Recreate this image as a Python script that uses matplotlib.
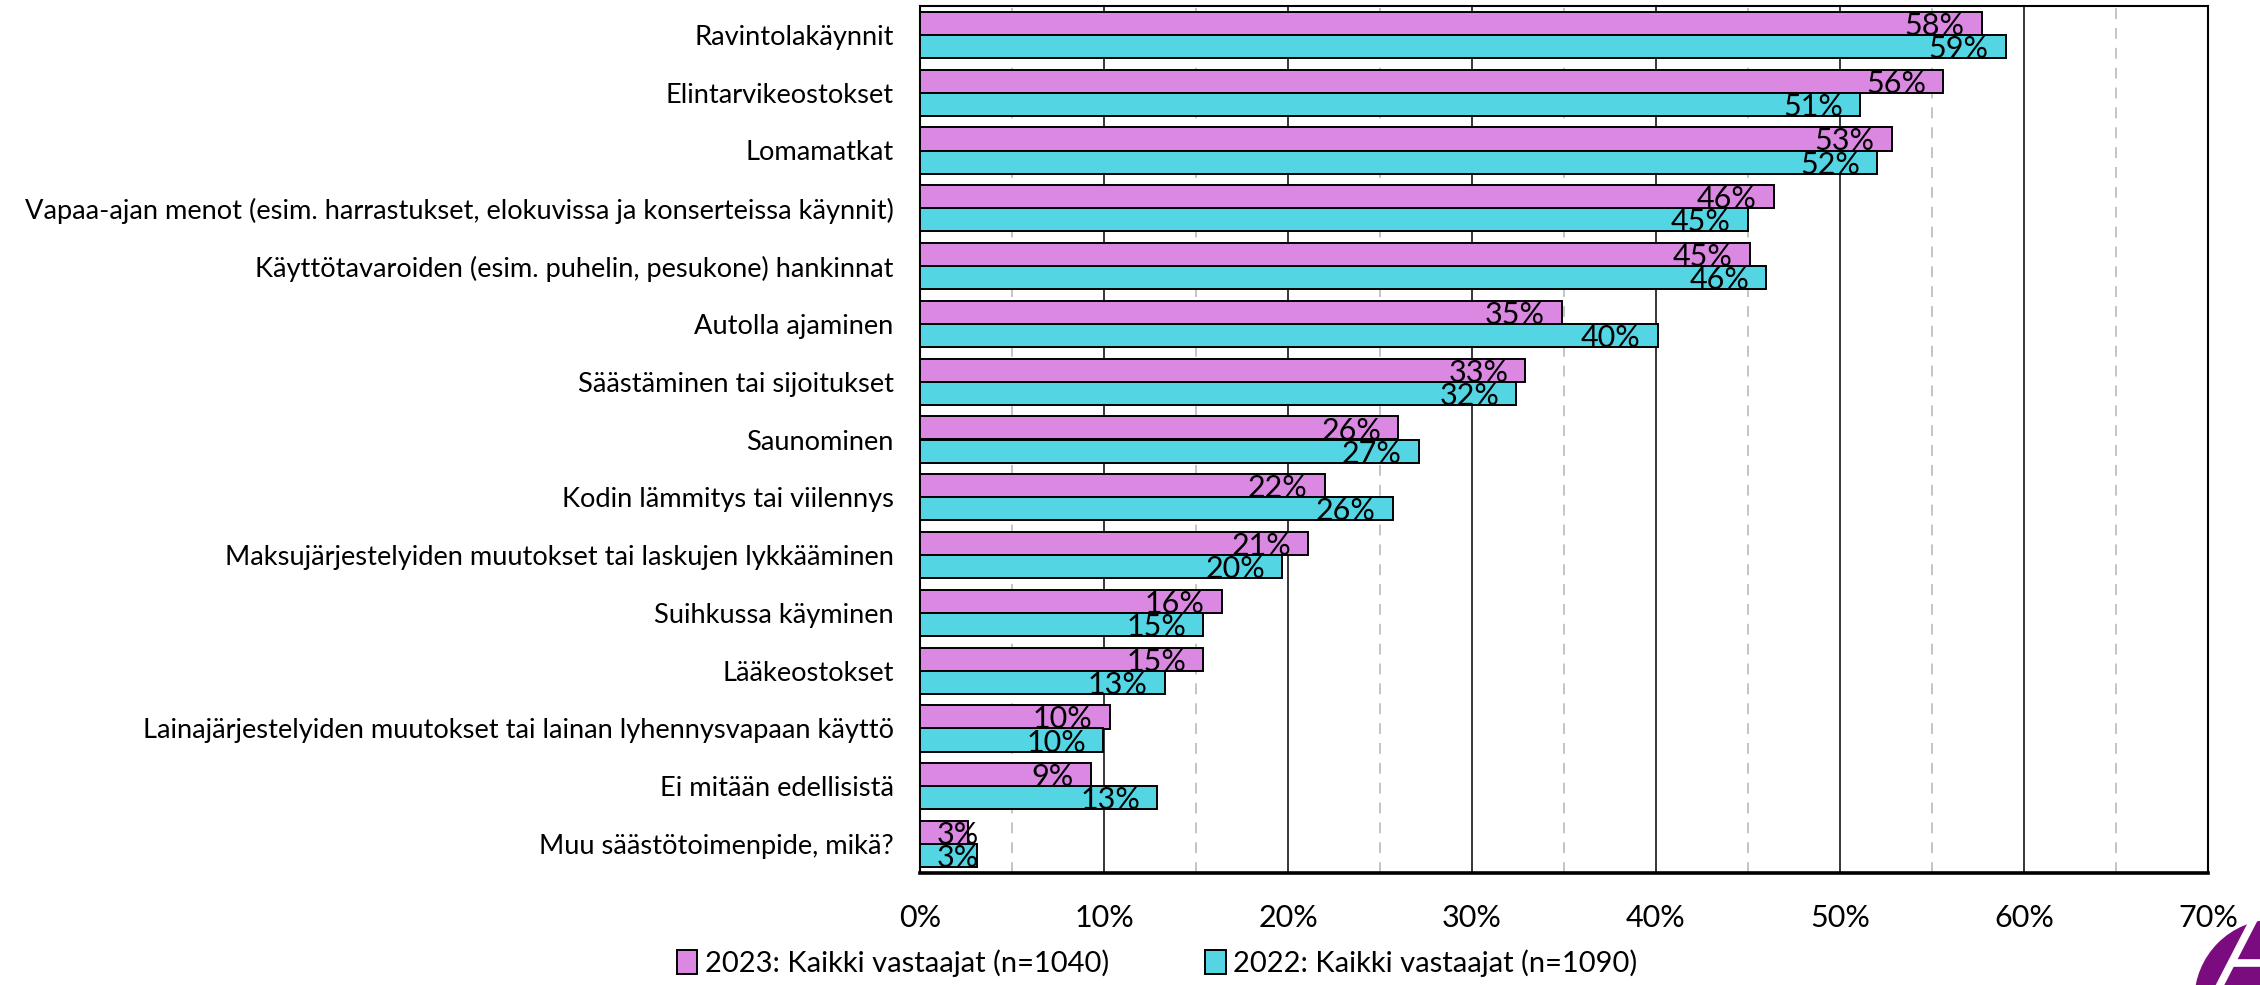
import matplotlib
matplotlib.use("Agg")
import matplotlib.pyplot as plt
from matplotlib.patches import Patch, Circle
from matplotlib.ticker import MultipleLocator, FuncFormatter

plt.rcParams['font.family'] = ['Lato', 'DejaVu Sans']

# kategoriat ylhaalta alas
kategoriat = [
    "Ravintolakäynnit",
    "Elintarvikeostokset",
    "Lomamatkat",
    "Vapaa-ajan menot (esim. harrastukset, elokuvissa ja konserteissa käynnit)",
    "Käyttötavaroiden (esim. puhelin, pesukone) hankinnat",
    "Autolla ajaminen",
    "Säästäminen tai sijoitukset",
    "Saunominen",
    "Kodin lämmitys tai viilennys",
    "Maksujärjestelyiden muutokset tai laskujen lykkääminen",
    "Suihkussa käyminen",
    "Lääkeostokset",
    "Lainajärjestelyiden muutokset tai lainan lyhennysvapaan käyttö",
    "Ei mitään edellisistä",
    "Muu säästötoimenpide, mikä?",
]
arvot_2023 = [57.7, 55.6, 52.8, 46.4, 45.1, 34.9, 32.9, 26.0, 22.0, 21.1, 16.4, 15.4, 10.3, 9.3, 2.6]
arvot_2022 = [59.0, 51.1, 52.0, 45.0, 46.0, 40.1, 32.4, 27.1, 25.7, 19.7, 15.4, 13.3, 9.97, 12.9, 3.1]
sarjat = ["2023: Kaikki vastaajat (n=1040)", "2022: Kaikki vastaajat (n=1090)"]
varit = ["#DA88E1", "#53D5E3"]

fig = plt.figure(figsize=(22.6, 9.85), dpi=100)
ax = fig.add_axes([920 / 2260, 1 - 873 / 985, 1288 / 2260, 867 / 985])

y = list(range(len(kategoriat)))
h = 0.4
for arvot, vari, siirto in [(arvot_2023, varit[0], -h / 2), (arvot_2022, varit[1], h / 2)]:
    yy = [i + siirto for i in y]
    ax.barh(yy, arvot, height=h, color=vari, edgecolor='black', linewidth=1.4, zorder=3)
    for yi, v in zip(yy, arvot):
        teksti = f"{round(v)}%"
        if v < 5:
            ax.annotate(teksti, (0, yi + h / 2), xytext=(17, 0), textcoords='offset pixels',
                        ha='left', va='baseline', fontsize=22, zorder=4)
        else:
            ax.annotate(teksti, (v, yi + h / 2), xytext=(-17, 0), textcoords='offset pixels',
                        ha='right', va='baseline', fontsize=22, zorder=4)

ax.set_ylim(len(kategoriat) - 0.5, -0.5)
ax.set_xlim(0, 70)
ax.set_yticks(y)
ax.set_yticklabels(kategoriat, fontsize=19.6)
ax.xaxis.set_major_locator(MultipleLocator(10))
ax.xaxis.set_minor_locator(MultipleLocator(5))
ax.xaxis.set_major_formatter(FuncFormatter(lambda v, p: f"{v:.0f}%"))
ax.tick_params(axis='x', which='both', length=0, labelsize=22, pad=22)
ax.tick_params(axis='y', length=0, pad=19)
ax.set_axisbelow(True)
ax.grid(axis='x', which='major', color='black', linewidth=1.1, zorder=0)
ax.grid(axis='x', which='minor', color='#BFBFBF', linewidth=1.3, linestyle=(0, (6, 5)), zorder=0)
for s in ax.spines.values():
    s.set_linewidth(1.5)
ax.spines['bottom'].set_linewidth(2.6)

kahvat = [Patch(facecolor=c, edgecolor='black', linewidth=1.4) for c in varit]
fig.legend(kahvat, sarjat, loc='center', bbox_to_anchor=(1157 / 2260, 1 - 963 / 985), ncol=2,
           frameon=False, fontsize=21, handlelength=0.7, handleheight=0.9,
           handletextpad=0.25, columnspacing=3.3)

# logo oikeassa alakulmassa (osittain kuvan ulkopuolella), pikselikoordinaatit alhaalta
logo = Circle((2275, -15), 80, transform=None, color='#7B0C7F', clip_on=False)
fig.patches.append(logo)
fig.lines.append(plt.Line2D([2220, 2253], [0, 64], transform=None, color='white', linewidth=5.5))
fig.lines.append(plt.Line2D([2236, 2262], [22, 22], transform=None, color='white', linewidth=5.5))

fig.savefig("out.png", dpi=100)
